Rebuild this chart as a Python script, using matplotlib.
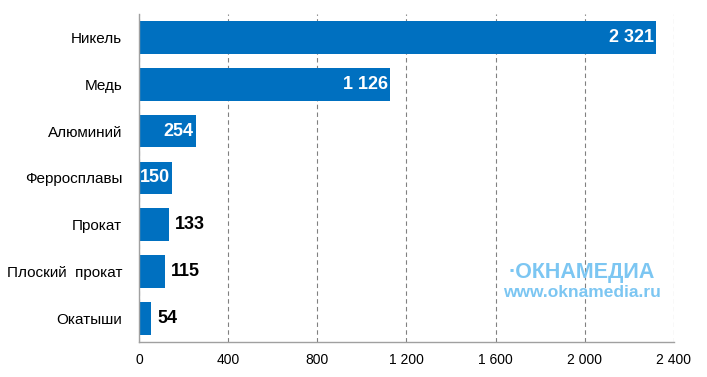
import matplotlib.pyplot as plt
from matplotlib.ticker import FuncFormatter

plt.rcParams['font.family'] = ['Liberation Sans', 'DejaVu Sans']

# данные
categories = ['Никель', 'Медь', 'Алюминий', 'Ферросплавы', 'Прокат', 'Плоский  прокат', 'Окатыши']
values = [2321, 1126, 254, 150, 133, 115, 54]
labels_inside = [True, True, True, True, False, False, False]
x_ticks = [0, 400, 800, 1200, 1600, 2000, 2400]

bar_color = '#0070C0'


def fmt(v):
    return f'{int(v):,}'.replace(',', ' ')


fig = plt.figure(figsize=(7.07, 3.77), dpi=100)
ax = fig.add_axes([0.1966, 0.093, 0.7567, 0.870])

y = range(len(categories))
ax.barh(y, values, height=0.7, color=bar_color, zorder=3)

for i, (v, inside) in enumerate(zip(values, labels_inside)):
    if inside:
        ax.text(v - 10, i, fmt(v), ha='right', va='center', color='white',
                fontsize=13, fontweight='bold', zorder=4)
    else:
        ax.text(v + 28, i, fmt(v), ha='left', va='center', color='black',
                fontsize=13, fontweight='bold', zorder=4)

ax.set_yticks(list(y))
ax.set_yticklabels(categories, fontsize=11)
ax.set_ylim(len(categories) - 0.5, -0.5)
ax.set_xlim(0, 2400)
ax.set_xticks(x_ticks)
ax.xaxis.set_major_formatter(FuncFormatter(lambda v, p: fmt(v)))
ax.tick_params(axis='x', length=0, labelsize=10, pad=8)
ax.tick_params(axis='y', length=0, pad=12)

ax.grid(axis='x', color='#808080', linestyle=(0, (4, 3)), linewidth=0.8, zorder=0)
ax.spines['top'].set_visible(False)
ax.spines['right'].set_visible(False)
for s in ['left', 'bottom']:
    ax.spines[s].set_color('#a0a0a0')
    ax.spines[s].set_linewidth(1)
    ax.spines[s].set_zorder(5)

# водяной знак
fig.text(0.823, 0.278, '·ОКНАМЕДИА', color='#7cc6f2', fontsize=15.5, fontweight='bold',
         ha='center', va='center')
fig.text(0.823, 0.225, 'www.oknamedia.ru', color='#7cc6f2', fontsize=12.5, fontweight='bold',
         ha='center', va='center')

fig.savefig('out.png', dpi=100)
